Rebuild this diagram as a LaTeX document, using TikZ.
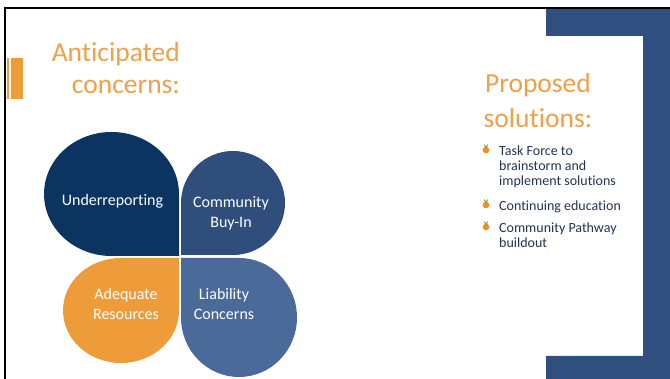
\documentclass[tikz,border=0pt]{standalone}
\usepackage{fontspec}
\setmainfont{Carlito}[Ligatures=NoCommon]

\definecolor{titleorange}{RGB}{240,160,70}
\definecolor{petalorange}{RGB}{238,155,58}
\definecolor{navy}{RGB}{11,53,96}
\definecolor{midblue}{RGB}{47,78,124}
\definecolor{softblue}{RGB}{74,106,153}
\definecolor{framblue}{RGB}{47,80,126}
\definecolor{bodytext}{RGB}{35,52,82}
\definecolor{bulletorange}{RGB}{245,140,30}
\definecolor{leafgreen}{RGB}{95,170,60}

% stacked lines whose baseline is the first line's baseline
\newcommand\linesof[2][c]{\begin{tabular}[t]{@{}#1@{}}#2\end{tabular}}

\begin{document}
\begin{tikzpicture}[x=1pt,y=1pt,
  titletext/.style={text=titleorange,inner sep=0pt},
  petaltext/.style={text=white,font=\fontsize{16}{19.5}\selectfont,anchor=base,inner sep=0pt},
  itemtext/.style={text=bodytext,font=\fontsize{14}{15.2}\selectfont,anchor=base west,inner sep=0pt},
  bulletdot/.style={fill=bulletorange},
  bulletleaf/.style={draw=leafgreen,line width=0.9pt,line cap=round}]
\useasboundingbox (0,0) rectangle (670,379);
\fill[white] (0,0) rectangle (670,379);

% right-hand bracket frame
\fill[framblue] (546,370) -- (670,370) -- (670,0) -- (546,0) -- (546,23)
  -- (643,23) -- (643,343) -- (546,343) -- cycle;

% slide border
\draw[black,line width=2.4pt] (5,0) -- (5,371) -- (670,371);

% small accent bars beside the title
\fill[petalorange] (7.3,280) rectangle (9.2,321);
\fill[petalorange] (11,280) rectangle (22.7,321);

% four petals
\fill[navy] (179,123) -- (179,185)
  arc[start angle=0,end angle=90,x radius=67.5pt,y radius=62pt]
  arc[start angle=90,end angle=180,x radius=67.5pt,y radius=62pt]
  arc[start angle=180,end angle=270,x radius=67.5pt,y radius=62pt] -- cycle;
\fill[midblue] (181,124) -- (233,124)
  arc[start angle=-90,end angle=0,radius=52pt]
  arc[start angle=0,end angle=90,radius=52pt]
  arc[start angle=90,end angle=180,radius=52pt] -- cycle;
\fill[petalorange] (179,121) -- (121,121)
  arc[start angle=90,end angle=180,x radius=58pt,y radius=52.5pt]
  arc[start angle=180,end angle=270,x radius=58pt,y radius=52.5pt]
  arc[start angle=270,end angle=360,x radius=58pt,y radius=52.5pt] -- cycle;
\fill[softblue] (181,121) -- (181,61.5)
  arc[start angle=180,end angle=270,x radius=58pt,y radius=59.5pt]
  arc[start angle=270,end angle=360,x radius=58pt,y radius=59.5pt]
  arc[start angle=0,end angle=90,x radius=58pt,y radius=59.5pt] -- cycle;

% petal labels
\node[petaltext] (under) at (112.5,173) {Underreporting};
\node[petaltext] (buyin) at (231,171) {\linesof{Community\\Buy-In}};
\node[petaltext] (resources) at (126,79) {\linesof{Adequate\\Resources}};
\node[petaltext] (liability) at (224,79) {\linesof{Liability\\Concerns}};

% headings
\node[titletext,anchor=base east,font=\fontsize{27.5}{32}\selectfont] (concerns) at (180,317)
  {\linesof[r]{Anticipated\\concerns:}};
\node[titletext,anchor=base,font=\fontsize{27.5}{35}\selectfont] (solutions) at (538,286)
  {\linesof{Proposed\\solutions:}};

% bullet list
\node[itemtext] (taskforce) at (499,223.5) {\linesof[l]{Task Force to\\brainstorm and\\implement solutions}};
\node[itemtext] (education) at (499,168.5) {Continuing education};
\node[itemtext] (pathway) at (499,146.5) {\linesof[l]{Community Pathway\\buildout}};

\foreach \yb in {225,170,148}{
  \fill[bulletdot] (486,\yb+4) circle (3.3pt);
  \draw[bulletleaf] (486,\yb+6.5) -- (484.3,\yb+9.2);
  \draw[bulletleaf] (486,\yb+6.5) -- (487.7,\yb+9.2);
}
\end{tikzpicture}
\end{document}
